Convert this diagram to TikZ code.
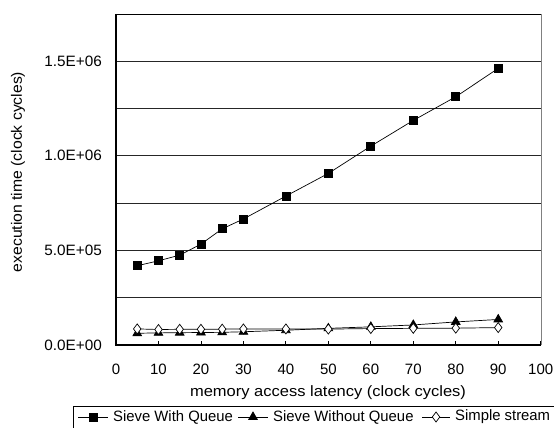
\documentclass[tikz,border=0pt]{standalone}
\usepackage{fontspec}
\setmainfont{Liberation Sans}
\usetikzlibrary{plotmarks}
\newcommand{\hs}[2]{\scalebox{#1}[1]{#2}}
\begin{document}
\begin{tikzpicture}[x=1pt,y=-1pt,
  lbl/.style={font=\fontsize{15}{17}\selectfont, inner sep=0pt},
  grid line/.style={black!85, line width=0.8pt},
  series/.style={black, line width=0.7pt},
  sq/.style={series, mark=square*, mark size=4pt, mark options={solid, fill=black}},
  tri/.style={series, mark=triangle*, mark size=5pt, mark options={solid, fill=black}},
  dia/.style={series, mark=diamond*, mark size=5pt, mark options={solid, fill=white, draw=black}}]
\useasboundingbox (0,0) rectangle (554,428);
\fill[white] (0,0) rectangle (554,428);

% grid lines
\foreach \g in {297.7,250.4,203.1,155.8,108.5,61.2}
  \draw[grid line] (116,\g) -- (541,\g);
\draw[black, line width=0.9pt] (116,14) -- (541,14);
\draw[black!50, line width=0.9pt] (541,14) -- (541,345);
% axes
\draw[black, line width=1.2pt] (116,14) -- (116,345) -- (541,345);
\foreach \i in {1,...,10}
  \draw[black, line width=0.8pt] ({116+\i*42.47},345) -- ({116+\i*42.47},341);

% tick labels
\node[lbl, anchor=east] (y0) at (102,345) {\hs{1.02}{0.0E+00}};
\node[lbl, anchor=east] (y1) at (102,250.4) {\hs{1.02}{5.0E+05}};
\node[lbl, anchor=east] (y2) at (102,155.8) {\hs{1.02}{1.0E+06}};
\node[lbl, anchor=east] (y3) at (102,61.2) {\hs{1.02}{1.5E+06}};
\foreach \i in {0,10,...,100}
  \node[lbl] (x\i) at ({116+\i*4.247},369) {\i};

% axis titles
\node[lbl] (xt) at (328,393) {\hs{1.1}{memory access latency (clock cycles)}};
\node[lbl, rotate=90] (yt) at (18,172) {\hs{1.05}{execution time (clock cycles)}};

% data
\begin{scope}[shift={(116pt,-345pt)}, x=4.247pt, y=18.92pt]
\draw[sq] plot coordinates {(5,4.19) (10,4.45) (15,4.75) (20,5.33) (25,6.14) (30,6.66) (40,7.87) (50,9.07) (60,10.51) (70,11.87) (80,13.12) (90,14.62)};
\draw[tri] plot coordinates {(5,0.62) (10,0.64) (15,0.65) (20,0.66) (25,0.67) (30,0.70) (40,0.78) (50,0.88) (60,0.96) (70,1.06) (80,1.22) (90,1.35)};
\draw[dia] plot coordinates {(5,0.85) (10,0.82) (15,0.83) (20,0.83) (25,0.84) (30,0.85) (40,0.85) (50,0.84) (60,0.87) (70,0.88) (80,0.89) (90,0.92)};
\end{scope}

% legend
\draw[black, line width=0.8pt] (73,406) rectangle (600,450);
\draw[series, line width=0.9pt] (78,417) -- (108,417);
\draw[sq, only marks] plot coordinates {(93,417)};
\node[lbl, anchor=west] (l1) at (113,417) {\hs{0.99}{Sieve With Queue}};
\draw[series, line width=0.9pt] (238,417) -- (268,417);
\draw[tri, only marks] plot coordinates {(253,417)};
\node[lbl, anchor=west] (l2) at (273,417) {\hs{0.99}{Sieve Without Queue}};
\draw[series, line width=0.9pt] (422,417) -- (450,417);
\draw[dia, only marks] plot coordinates {(436,417)};
\node[lbl, anchor=west] (l3) at (455,417) {\hs{0.99}{Simple stream}};
\end{tikzpicture}
\end{document}
